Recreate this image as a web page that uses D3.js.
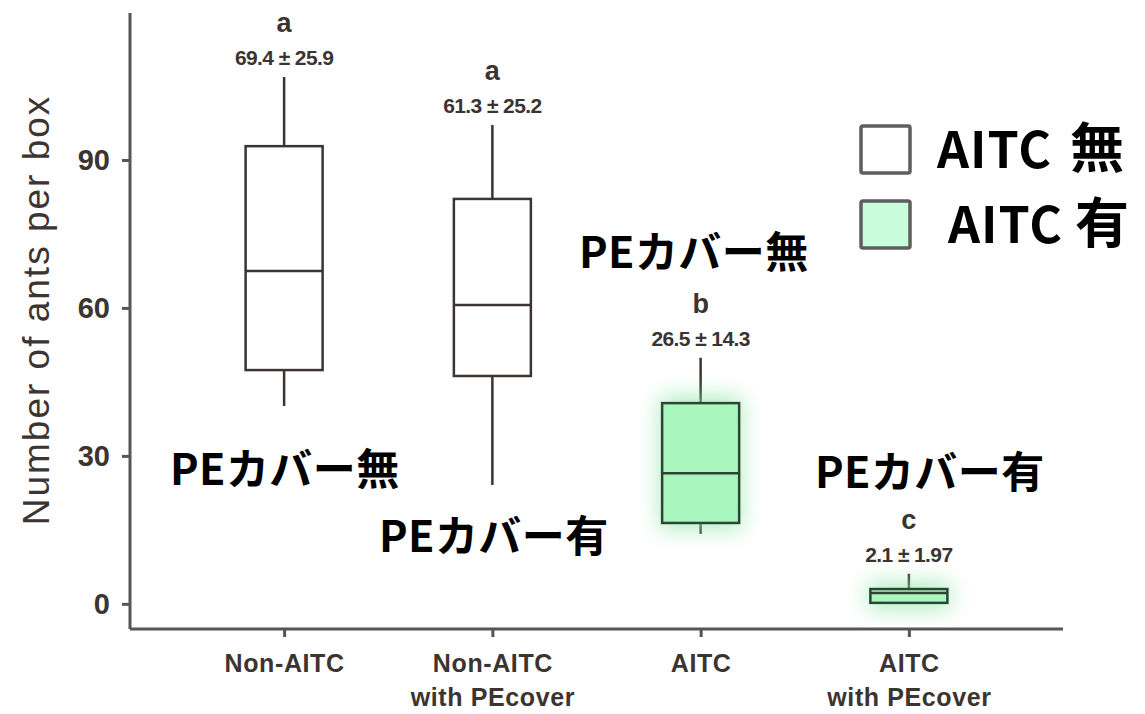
<!DOCTYPE html>
<html>
<head>
<meta charset="utf-8">
<script src="https://cdn.jsdelivr.net/npm/d3@7"></script>
<style>
  body { margin: 0; background: #fff; }
  svg { display: block; }
</style>
</head>
<body>
<div id="chart"></div>
<script>
// box plot data
let categories = ["Non-AITC", "Non-AITC\nwith PEcover", "AITC", "AITC\nwith PEcover"];
let whiskerLow = [40.1, 24.1, 14.2, 0.2];
let q1 = [47.4, 46.2, 16.4, 0.2];
let median = [67.5, 60.6, 26.5, 2.2];
let q3 = [92.8, 82.1, 40.7, 3.0];
let whiskerHigh = [106.8, 97.1, 49.9, 6.1];
let letters = ["a", "a", "b", "c"];
let meanSd = ["69.4 \u00b1 25.9", "61.3 \u00b1 25.2", "26.5 \u00b1 14.3", "2.1 \u00b1 1.97"];
let withAitc = [false, false, true, true];
let yTicks = [0, 30, 60, 90];
let legendLabels = ["AITC", "AITC"];
let legendMarks = ["\u7121", "\u6709"];

let data = categories.map((c, i) => ({
  cat: c, lo: whiskerLow[i], q1: q1[i], med: median[i], q3: q3[i], hi: whiskerHigh[i],
  letter: letters[i], stat: meanSd[i], aitc: withAitc[i]
}));

let width = 1145, height = 714;
let ink = "#3b3431";
let sans = "'Liberation Sans', Arial, sans-serif";

let svg = d3.select("#chart").append("svg")
  .attr("width", width).attr("height", height);

// glow for green boxes
let defs = svg.append("defs");
defs.append("filter").attr("id", "glow")
  .attr("x", "-60%").attr("y", "-60%").attr("width", "220%").attr("height", "220%")
  .append("feGaussianBlur").attr("stdDeviation", 11);

let xScale = d3.scalePoint()
  .domain(categories)
  .range([130, 1063])
  .padding(0.74);
let yScale = d3.scaleLinear()
  .domain([-5.1, 119.8])
  .range([629, 13]);

let boxW = 77;

// axes
let yAxis = svg.append("g")
  .attr("transform", "translate(130,0)")
  .call(d3.axisLeft(yScale).tickValues(yTicks).tickSize(8).tickPadding(12));
let xAxis = svg.append("g")
  .attr("transform", "translate(0,629)")
  .call(d3.axisBottom(xScale).tickSize(8).tickFormat(""));

[yAxis, xAxis].forEach(a => {
  a.select(".domain").attr("stroke", "#555").attr("stroke-width", 3)
  a.selectAll(".tick line").attr("stroke", "#555").attr("stroke-width", 3);
});
yAxis.select(".domain").attr("d", "M0,13V629");
xAxis.select(".domain").attr("d", "M130,0H1063");

yAxis.selectAll(".tick text")
  .attr("fill", ink)
  .style("font-family", sans)
  .style("font-size", "29px")
  .style("font-weight", "bold");

// category labels, two lines
xAxis.selectAll(".tick").each(function(d) {
  let t = d3.select(this).append("text")
    .attr("fill", ink)
    .attr("text-anchor", "middle")
    .style("font-family", sans)
    .style("font-size", "25px")
    .style("font-weight", "bold")
    .style("letter-spacing", "0.6px");
  d.split("\n").forEach((line, i) => {
    t.append("tspan").attr("x", 0).attr("y", 43 + i * 34).text(line);
  });
});

// y axis title
svg.append("text")
  .attr("transform", "translate(49,310) rotate(-90)")
  .attr("text-anchor", "middle")
  .attr("fill", ink)
  .style("font-family", sans)
  .style("font-size", "37px")
  .style("letter-spacing", "2px")
  .text("Number of ants per box");

// boxes
let boxes = svg.append("g")
  .selectAll("g")
  .data(data)
  .enter()
  .append("g");

// whiskers
boxes.append("line")
  .attr("x1", d => xScale(d.cat)).attr("x2", d => xScale(d.cat))
  .attr("y1", d => yScale(d.hi)).attr("y2", d => yScale(d.lo))
  .attr("stroke", ink).attr("stroke-width", 2.5);

boxes.filter(d => d.aitc).append("rect")
  .attr("x", d => xScale(d.cat) - boxW / 2 - 2)
  .attr("y", d => yScale(d.q3) - 6)
  .attr("width", boxW + 4)
  .attr("height", d => yScale(d.q1) - yScale(d.q3) + 12)
  .attr("fill", "#8fe8a8")
  .attr("opacity", 0.75)
  .attr("filter", "url(#glow)");

boxes.append("rect")
  .attr("x", d => xScale(d.cat) - boxW / 2)
  .attr("y", d => yScale(d.q3))
  .attr("width", boxW)
  .attr("height", d => yScale(d.q1) - yScale(d.q3))
  .attr("fill", d => d.aitc ? "#a9f6bf" : "#fff")
  .attr("stroke", d => d.aitc ? "#2e4535" : ink)
  .attr("stroke-width", 2.5);

boxes.append("line")
  .attr("x1", d => xScale(d.cat) - boxW / 2).attr("x2", d => xScale(d.cat) + boxW / 2)
  .attr("y1", d => yScale(d.med)).attr("y2", d => yScale(d.med))
  .attr("stroke", d => d.aitc ? "#2e4535" : ink).attr("stroke-width", 2.5);

// significance letters and mean ± sd
boxes.append("text")
  .attr("x", d => xScale(d.cat))
  .attr("y", d => yScale(d.hi) - 45)
  .attr("text-anchor", "middle")
  .attr("fill", ink)
  .style("font-family", sans)
  .style("font-size", "27px")
  .style("font-weight", "bold")
  .text(d => d.letter);

boxes.append("text")
  .attr("x", d => xScale(d.cat))
  .attr("y", d => yScale(d.hi) - 12)
  .attr("text-anchor", "middle")
  .attr("fill", ink)
  .style("font-family", sans)
  .style("font-size", "21px")
  .style("font-weight", "bold")
  .style("letter-spacing", "-0.6px")
  .text(d => d.stat);

// Japanese annotations
let jp = "'Noto Sans CJK JP', sans-serif";
let notes = [
  { text: "PE\u30ab\u30d0\u30fc\u7121", x: 170, y: 485 },
  { text: "PE\u30ab\u30d0\u30fc\u6709", x: 379, y: 552 },
  { text: "PE\u30ab\u30d0\u30fc\u7121", x: 579, y: 268 },
  { text: "PE\u30ab\u30d0\u30fc\u6709", x: 815, y: 488 }
];
svg.append("g").selectAll("text")
  .data(notes)
  .enter()
  .append("text")
  .attr("x", d => d.x).attr("y", d => d.y)
  .attr("fill", "#000")
  .style("font-family", jp)
  .style("font-size", "43px")
  .style("font-weight", "bold")
  .style("letter-spacing", "0.4px")
  .text(d => d.text);

// legend
let legend = svg.append("g")
  .selectAll("g")
  .data(legendLabels)
  .enter()
  .append("g")
  .attr("transform", (d, i) => `translate(861,${126 + i * 75})`);

legend.append("rect")
  .attr("width", 49).attr("height", 47)
  .attr("rx", 2)
  .attr("fill", (d, i) => i === 0 ? "#fff" : "#c8fcda")
  .attr("stroke", "#5e5e5e")
  .attr("stroke-width", 3.5);

let legendText = legend.append("text")
  .attr("x", (d, i) => i === 0 ? 76 : 87)
  .attr("y", 42)
  .attr("fill", "#000")
  .style("font-family", jp)
  .style("font-size", "50px")
  .style("font-weight", "bold")
  .style("letter-spacing", "1px");
legendText.append("tspan").text(d => d);
legendText.append("tspan")
  .attr("dx", (d, i) => i === 0 ? 18 : 12)
  .style("font-size", "54px")
  .text((d, i) => legendMarks[i]);
</script>
</body>
</html>
